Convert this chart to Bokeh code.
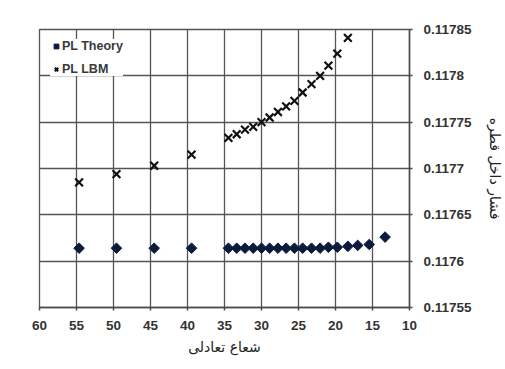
import numpy as np
from bokeh.plotting import figure
from bokeh.models import Range1d, FixedTicker, Legend, LegendItem
from bokeh.embed import file_html
from bokeh.resources import INLINE

# ---- data ----
radius = [54.65, 49.6, 44.5, 39.45, 34.47, 33.35, 32.23, 31.12, 30.0, 28.9,
          27.78, 26.67, 25.55, 24.44, 23.24, 22.08, 20.96, 19.76, 18.33,
          17.0, 15.44, 13.3]
pl_theory = [0.117614, 0.117614, 0.117614, 0.117614, 0.117614, 0.117614,
             0.117614, 0.117614, 0.117614, 0.117614, 0.117614, 0.117614,
             0.117614, 0.117614, 0.117614, 0.117614, 0.117615, 0.117615,
             0.117616, 0.117617, 0.117618, 0.117626]
radius_lbm = [54.65, 49.6, 44.5, 39.45, 34.47, 33.35, 32.23, 31.12, 30.0,
              28.9, 27.78, 26.67, 25.55, 24.44, 23.24, 22.08, 20.96, 19.76,
              18.33]
pl_lbm = [0.117685, 0.117694, 0.117703, 0.117715, 0.117733, 0.117737,
          0.117742, 0.117745, 0.117750, 0.117755, 0.117761, 0.117767,
          0.117773, 0.117782, 0.117791, 0.117800, 0.117811, 0.117824,
          0.117841]

x_ticks = [60, 55, 50, 45, 40, 35, 30, 25, 20, 15, 10]
y_ticks = [0.11755, 0.1176, 0.11765, 0.1177, 0.11775, 0.1178, 0.11785]
y_tick_labels = ["0.11755", "0.1176", "0.11765", "0.1177", "0.11775",
                 "0.1178", "0.11785"]
series_names = ["PL Theory", "PL LBM"]
x_title = "شعاع تعادلی"
y_title = "فشار داخل قطره"

X0, X1 = 60, 10
Y0, Y1 = 0.11755, 0.11785
GRID = "#555555"
AXIS = "#4a4a4a"

p = figure(width=505, height=369, output_backend="svg", toolbar_location=None,
           x_range=Range1d(X0, X1), y_range=Range1d(Y0, Y1),
           y_axis_location="right",
           min_border_left=39, min_border_top=29, min_border_bottom=62,
           min_border_right=92)

p.outline_line_color = GRID
p.outline_line_width = 1.3

r1 = p.scatter(radius, pl_theory, marker="square", angle=np.pi / 4, size=7.5,
               fill_color="#0c1a3c", line_color="#0c1a3c")
r2 = p.scatter(radius_lbm, pl_lbm, marker="x", size=11, line_width=2.2,
               line_color="#111111")

xa = p.xaxis[0]
xa.ticker = FixedTicker(ticks=x_ticks)
ya = p.yaxis[0]
ya.ticker = FixedTicker(ticks=y_ticks)
ya.major_label_overrides = {t: l for t, l in zip(y_ticks, y_tick_labels)}

for ax in (xa, ya):
    ax.axis_line_color = AXIS
    ax.axis_line_width = 1.5
    ax.major_tick_line_color = AXIS
    ax.major_tick_line_width = 1.5
    ax.major_tick_out = 3
    ax.major_tick_in = 0
    ax.minor_tick_line_color = None
    ax.major_label_text_font = "Liberation Sans"
    ax.major_label_text_font_style = "bold"
    ax.major_label_text_font_size = "13.5px"
    ax.major_label_text_color = "#333333"
    ax.axis_label_text_font = "DejaVu Sans"
    ax.axis_label_text_font_style = "normal"
    ax.axis_label_text_font_size = "14px"
    ax.axis_label_text_color = "#222222"

xa.major_label_standoff = 10
xa.axis_label = x_title
xa.axis_label_standoff = 6
ya.major_label_standoff = 11
ya.axis_label = y_title
ya.axis_label_standoff = 12

p.xgrid.ticker = FixedTicker(ticks=x_ticks)
p.ygrid.ticker = FixedTicker(ticks=y_ticks)
p.xgrid.grid_line_color = GRID
p.ygrid.grid_line_color = GRID
p.xgrid.grid_line_width = 1.3
p.ygrid.grid_line_width = 1.3

legend = Legend(items=[LegendItem(label=series_names[0], renderers=[r1]),
                       LegendItem(label=series_names[1], renderers=[r2])],
                location=(11, 231))
legend.background_fill_color = "white"
legend.background_fill_alpha = 1.0
legend.border_line_color = None
legend.label_text_font = "Liberation Sans"
legend.label_text_font_style = "bold"
legend.label_text_font_size = "12.5px"
legend.label_text_color = "#3a3a3a"
legend.glyph_width = 12
legend.glyph_height = 12
legend.label_standoff = 0
legend.label_height = 14
legend.spacing = 9
legend.padding = 2
legend.margin = 0
p.add_layout(legend, "center")

open("out.html", "w").write(file_html(p, INLINE))
